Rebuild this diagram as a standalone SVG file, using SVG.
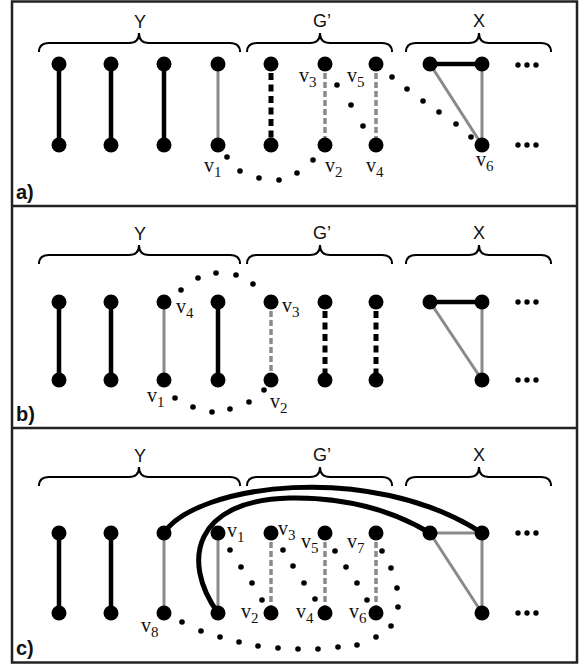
<svg xmlns="http://www.w3.org/2000/svg" xmlns:xlink="http://www.w3.org/1999/xlink" width="586" height="665" viewBox="0 0 586 665">
<style>
.e{stroke:#000;stroke-width:4.5;fill:none}
.g{stroke:#8a8a8a;stroke-width:3;fill:none}
.ed{stroke:#000;stroke-width:5;stroke-dasharray:7 4.5;fill:none}
.gd{stroke:#8a8a8a;stroke-width:3.5;stroke-dasharray:6 3;fill:none}
.cv{stroke:#000;stroke-width:5;fill:none}
.n{fill:#000}
.d{fill:#000}
.br{fill:none;stroke:#000;stroke-width:2}
.lbl{font-family:"Liberation Serif","Times New Roman",serif;font-size:20px;fill:#111}
.sub{font-size:15px}
.hd{font-family:"Liberation Sans",Arial,sans-serif;font-size:18px;text-anchor:middle;fill:#111}
.pl{font-family:"Liberation Sans",Arial,sans-serif;font-weight:bold;font-size:20px;fill:#111}
.frame{fill:#fff;stroke:#222;stroke-width:2.5}
</style>
<defs>
<path id="bY" class="br" d="M39,9 Q39,0 49,0 L129,0 Q139,0 139,-10 Q139,0 149,0 L230,0 Q240,0 240,9"/>
<path id="bG" class="br" d="M247,9 Q247,0 257,0 L310,0 Q320,0 320,-10 Q320,0 330,0 L382,0 Q392,0 392,9"/>
<path id="bX" class="br" d="M406,9 Q406,0 416,0 L469,0 Q479,0 479,-10 Q479,0 489,0 L541,0 Q551,0 551,9"/>
<g id="ell"><circle cx="518" cy="0" r="2.7"/><circle cx="527" cy="0" r="2.7"/><circle cx="536" cy="0" r="2.7"/></g>
</defs>
<rect class="frame" x="12" y="1.5" width="565" height="661"/>
<line x1="12" y1="206" x2="577" y2="206" stroke="#222" stroke-width="2.5"/>
<line x1="12" y1="428" x2="577" y2="428" stroke="#222" stroke-width="2.5"/>

<!-- ================= Panel a ================= -->
<g id="panel-a">
<g id="a-headers">
<text class="hd" x="140" y="28">Y</text>
<text class="hd" x="322" y="27">G’</text>
<text class="hd" x="479" y="27">X</text>
<use xlink:href="#bY" y="43"/><use xlink:href="#bG" y="43"/><use xlink:href="#bX" y="43"/>
</g>
<g id="a-connectors">
<line class="e" x1="59" y1="64" x2="59" y2="145"/>
<line class="e" x1="111" y1="64" x2="111" y2="145"/>
<line class="e" x1="164" y1="64" x2="164" y2="145"/>
<line class="g" x1="218" y1="64" x2="218" y2="145"/>
<line class="ed" x1="271" y1="73" x2="271" y2="140"/>
<line class="gd" x1="325" y1="73" x2="325" y2="140"/>
<line class="gd" x1="376" y1="73" x2="376" y2="140"/>
<line class="e" x1="430" y1="64" x2="482" y2="64"/>
<line class="g" x1="430" y1="64" x2="482" y2="145"/>
<line class="g" x1="482" y1="64" x2="482" y2="145"/>
<g class="d">
<circle cx="227" cy="157" r="2.8"/><circle cx="240" cy="171" r="2.8"/><circle cx="259" cy="178" r="2.8"/><circle cx="279" cy="180" r="2.8"/><circle cx="297" cy="173" r="2.8"/><circle cx="313" cy="160" r="2.8"/>
<circle cx="337" cy="85" r="2.8"/><circle cx="351" cy="105" r="2.8"/><circle cx="363" cy="126" r="2.8"/>
<circle cx="392" cy="77" r="2.8"/><circle cx="407" cy="89" r="2.8"/><circle cx="423" cy="101" r="2.8"/><circle cx="439" cy="112" r="2.8"/><circle cx="456" cy="124" r="2.8"/><circle cx="471" cy="137" r="2.8"/>
</g>
</g>
<g id="a-n1t"><circle class="n" cx="59" cy="64" r="7.5"/></g>
<g id="a-n1b"><circle class="n" cx="59" cy="145" r="7.5"/></g>
<g id="a-n2t"><circle class="n" cx="111" cy="64" r="7.5"/></g>
<g id="a-n2b"><circle class="n" cx="111" cy="145" r="7.5"/></g>
<g id="a-n3t"><circle class="n" cx="164" cy="64" r="7.5"/></g>
<g id="a-n3b"><circle class="n" cx="164" cy="145" r="7.5"/></g>
<g id="a-n4t"><circle class="n" cx="218" cy="64" r="7.5"/></g>
<g id="a-v1"><circle class="n" cx="218" cy="145" r="7.5"/><text class="lbl" x="204" y="172">v<tspan class="sub" dy="5">1</tspan></text></g>
<g id="a-n5t"><circle class="n" cx="271" cy="64" r="7.5"/></g>
<g id="a-n5b"><circle class="n" cx="271" cy="145" r="7.5"/></g>
<g id="a-v3"><circle class="n" cx="325" cy="64" r="7.5"/><text class="lbl" x="299" y="82">v<tspan class="sub" dy="5">3</tspan></text></g>
<g id="a-v2"><circle class="n" cx="325" cy="145" r="7.5"/><text class="lbl" x="325" y="172">v<tspan class="sub" dy="5">2</tspan></text></g>
<g id="a-v5"><circle class="n" cx="376" cy="64" r="7.5"/><text class="lbl" x="347" y="82">v<tspan class="sub" dy="5">5</tspan></text></g>
<g id="a-v4"><circle class="n" cx="376" cy="145" r="7.5"/><text class="lbl" x="366" y="172">v<tspan class="sub" dy="5">4</tspan></text></g>
<g id="a-x1"><circle class="n" cx="430" cy="64" r="7.5"/></g>
<g id="a-x2"><circle class="n" cx="482" cy="64" r="7.5"/></g>
<g id="a-v6"><circle class="n" cx="482" cy="145" r="7.5"/><text class="lbl" x="476" y="166">v<tspan class="sub" dy="5">6</tspan></text></g>
<g id="a-more"><use xlink:href="#ell" y="65"/><use xlink:href="#ell" y="145"/></g>
<text class="pl" x="16" y="199">a)</text>
</g>

<!-- ================= Panel b ================= -->
<g id="panel-b">
<g id="b-headers">
<text class="hd" x="140" y="240">Y</text>
<text class="hd" x="322" y="239">G’</text>
<text class="hd" x="479" y="239">X</text>
<use xlink:href="#bY" y="255"/><use xlink:href="#bG" y="255"/><use xlink:href="#bX" y="255"/>
</g>
<g id="b-connectors">
<line class="e" x1="59" y1="302" x2="59" y2="380"/>
<line class="e" x1="111" y1="302" x2="111" y2="380"/>
<line class="g" x1="164" y1="302" x2="164" y2="380"/>
<line class="e" x1="218" y1="302" x2="218" y2="380"/>
<line class="gd" x1="271" y1="311" x2="271" y2="375"/>
<line class="ed" x1="325" y1="311" x2="325" y2="375"/>
<line class="ed" x1="376" y1="311" x2="376" y2="375"/>
<line class="e" x1="430" y1="302" x2="482" y2="302"/>
<line class="g" x1="430" y1="302" x2="482" y2="380"/>
<line class="g" x1="482" y1="302" x2="482" y2="380"/>
<g class="d">
<circle cx="175" cy="398" r="2.8"/><circle cx="193" cy="407" r="2.8"/><circle cx="212" cy="412" r="2.8"/><circle cx="230" cy="409" r="2.8"/><circle cx="249" cy="402" r="2.8"/><circle cx="264" cy="390" r="2.8"/>
<circle cx="181" cy="290" r="2.8"/><circle cx="198" cy="278" r="2.8"/><circle cx="216" cy="273" r="2.8"/><circle cx="236" cy="275" r="2.8"/><circle cx="253" cy="284" r="2.8"/>
</g>
</g>
<g id="b-n1t"><circle class="n" cx="59" cy="302" r="7.5"/></g>
<g id="b-n1b"><circle class="n" cx="59" cy="380" r="7.5"/></g>
<g id="b-n2t"><circle class="n" cx="111" cy="302" r="7.5"/></g>
<g id="b-n2b"><circle class="n" cx="111" cy="380" r="7.5"/></g>
<g id="b-v4"><circle class="n" cx="164" cy="302" r="7.5"/><text class="lbl" x="176" y="313">v<tspan class="sub" dy="5">4</tspan></text></g>
<g id="b-v1"><circle class="n" cx="164" cy="380" r="7.5"/><text class="lbl" x="147" y="402">v<tspan class="sub" dy="5">1</tspan></text></g>
<g id="b-n4t"><circle class="n" cx="218" cy="302" r="7.5"/></g>
<g id="b-n4b"><circle class="n" cx="218" cy="380" r="7.5"/></g>
<g id="b-v3"><circle class="n" cx="271" cy="302" r="7.5"/><text class="lbl" x="282" y="312">v<tspan class="sub" dy="5">3</tspan></text></g>
<g id="b-v2"><circle class="n" cx="271" cy="380" r="7.5"/><text class="lbl" x="270" y="408">v<tspan class="sub" dy="5">2</tspan></text></g>
<g id="b-n6t"><circle class="n" cx="325" cy="302" r="7.5"/></g>
<g id="b-n6b"><circle class="n" cx="325" cy="380" r="7.5"/></g>
<g id="b-n7t"><circle class="n" cx="376" cy="302" r="7.5"/></g>
<g id="b-n7b"><circle class="n" cx="376" cy="380" r="7.5"/></g>
<g id="b-x1"><circle class="n" cx="430" cy="302" r="7.5"/></g>
<g id="b-x2"><circle class="n" cx="482" cy="302" r="7.5"/></g>
<g id="b-x3"><circle class="n" cx="482" cy="380" r="7.5"/></g>
<g id="b-more"><use xlink:href="#ell" y="302"/><use xlink:href="#ell" y="380"/></g>
<text class="pl" x="16" y="421">b)</text>
</g>

<!-- ================= Panel c ================= -->
<g id="panel-c">
<g id="c-headers">
<text class="hd" x="140" y="462">Y</text>
<text class="hd" x="322" y="461">G’</text>
<text class="hd" x="479" y="461">X</text>
<use xlink:href="#bY" y="477"/><use xlink:href="#bG" y="477"/><use xlink:href="#bX" y="477"/>
</g>
<g id="c-connectors">
<line class="e" x1="59" y1="533" x2="59" y2="613"/>
<line class="e" x1="111" y1="533" x2="111" y2="613"/>
<line class="g" x1="164" y1="533" x2="164" y2="613"/>
<line class="g" x1="218" y1="533" x2="218" y2="613"/>
<line class="gd" x1="271" y1="542" x2="271" y2="608"/>
<line class="gd" x1="325" y1="542" x2="325" y2="608"/>
<line class="gd" x1="376" y1="542" x2="376" y2="608"/>
<line class="g" x1="430" y1="533" x2="482" y2="533"/>
<line class="g" x1="430" y1="533" x2="482" y2="613"/>
<line class="g" x1="482" y1="533" x2="482" y2="613"/>
<path class="cv" d="M164,533 C195,485 370,460 482,533"/>
<path class="cv" d="M218,613 C180,560 195,500 290,498 C350,497 395,512 430,533"/>
<g class="d">
<circle cx="230" cy="550" r="2.8"/><circle cx="241" cy="567" r="2.8"/><circle cx="252" cy="583" r="2.8"/><circle cx="262" cy="600" r="2.8"/>
<circle cx="283" cy="550" r="2.8"/><circle cx="293" cy="566" r="2.8"/><circle cx="304" cy="583" r="2.8"/><circle cx="315" cy="599" r="2.8"/>
<circle cx="335" cy="551" r="2.8"/><circle cx="346" cy="567" r="2.8"/><circle cx="357" cy="583" r="2.8"/><circle cx="367" cy="600" r="2.8"/>
<circle cx="382" cy="551" r="2.8"/><circle cx="391" cy="568" r="2.8"/><circle cx="397" cy="588" r="2.8"/><circle cx="398" cy="607" r="2.8"/><circle cx="391" cy="626" r="2.8"/><circle cx="376" cy="637" r="2.8"/><circle cx="357" cy="645" r="2.8"/><circle cx="338" cy="647" r="2.8"/><circle cx="318" cy="649" r="2.8"/><circle cx="298" cy="649" r="2.8"/><circle cx="278" cy="648" r="2.8"/><circle cx="258" cy="646" r="2.8"/><circle cx="239" cy="642" r="2.8"/><circle cx="220" cy="637" r="2.8"/><circle cx="201" cy="631" r="2.8"/><circle cx="182" cy="622" r="2.8"/>
</g>
</g>
<g id="c-n1t"><circle class="n" cx="59" cy="533" r="7.5"/></g>
<g id="c-n1b"><circle class="n" cx="59" cy="613" r="7.5"/></g>
<g id="c-n2t"><circle class="n" cx="111" cy="533" r="7.5"/></g>
<g id="c-n2b"><circle class="n" cx="111" cy="613" r="7.5"/></g>
<g id="c-n3t"><circle class="n" cx="164" cy="533" r="7.5"/></g>
<g id="c-v8"><circle class="n" cx="164" cy="613" r="7.5"/><text class="lbl" x="141" y="632">v<tspan class="sub" dy="5">8</tspan></text></g>
<g id="c-v1"><circle class="n" cx="218" cy="533" r="7.5"/><text class="lbl" x="227" y="537">v<tspan class="sub" dy="5">1</tspan></text></g>
<g id="c-n4b"><circle class="n" cx="218" cy="613" r="7.5"/></g>
<g id="c-v3"><circle class="n" cx="271" cy="533" r="7.5"/><text class="lbl" x="278" y="535">v<tspan class="sub" dy="5">3</tspan></text></g>
<g id="c-v2"><circle class="n" cx="271" cy="613" r="7.5"/><text class="lbl" x="241" y="618">v<tspan class="sub" dy="5">2</tspan></text></g>
<g id="c-v5"><circle class="n" cx="325" cy="533" r="7.5"/><text class="lbl" x="301" y="548">v<tspan class="sub" dy="5">5</tspan></text></g>
<g id="c-v4"><circle class="n" cx="325" cy="613" r="7.5"/><text class="lbl" x="296" y="618">v<tspan class="sub" dy="5">4</tspan></text></g>
<g id="c-v7"><circle class="n" cx="376" cy="533" r="7.5"/><text class="lbl" x="347" y="548">v<tspan class="sub" dy="5">7</tspan></text></g>
<g id="c-v6"><circle class="n" cx="376" cy="613" r="7.5"/><text class="lbl" x="349" y="618">v<tspan class="sub" dy="5">6</tspan></text></g>
<g id="c-x1"><circle class="n" cx="430" cy="533" r="7.5"/></g>
<g id="c-x2"><circle class="n" cx="482" cy="533" r="7.5"/></g>
<g id="c-x3"><circle class="n" cx="482" cy="613" r="7.5"/></g>
<g id="c-more"><use xlink:href="#ell" y="533"/><use xlink:href="#ell" y="613"/></g>
<text class="pl" x="16" y="655">c)</text>
</g>
</svg>
